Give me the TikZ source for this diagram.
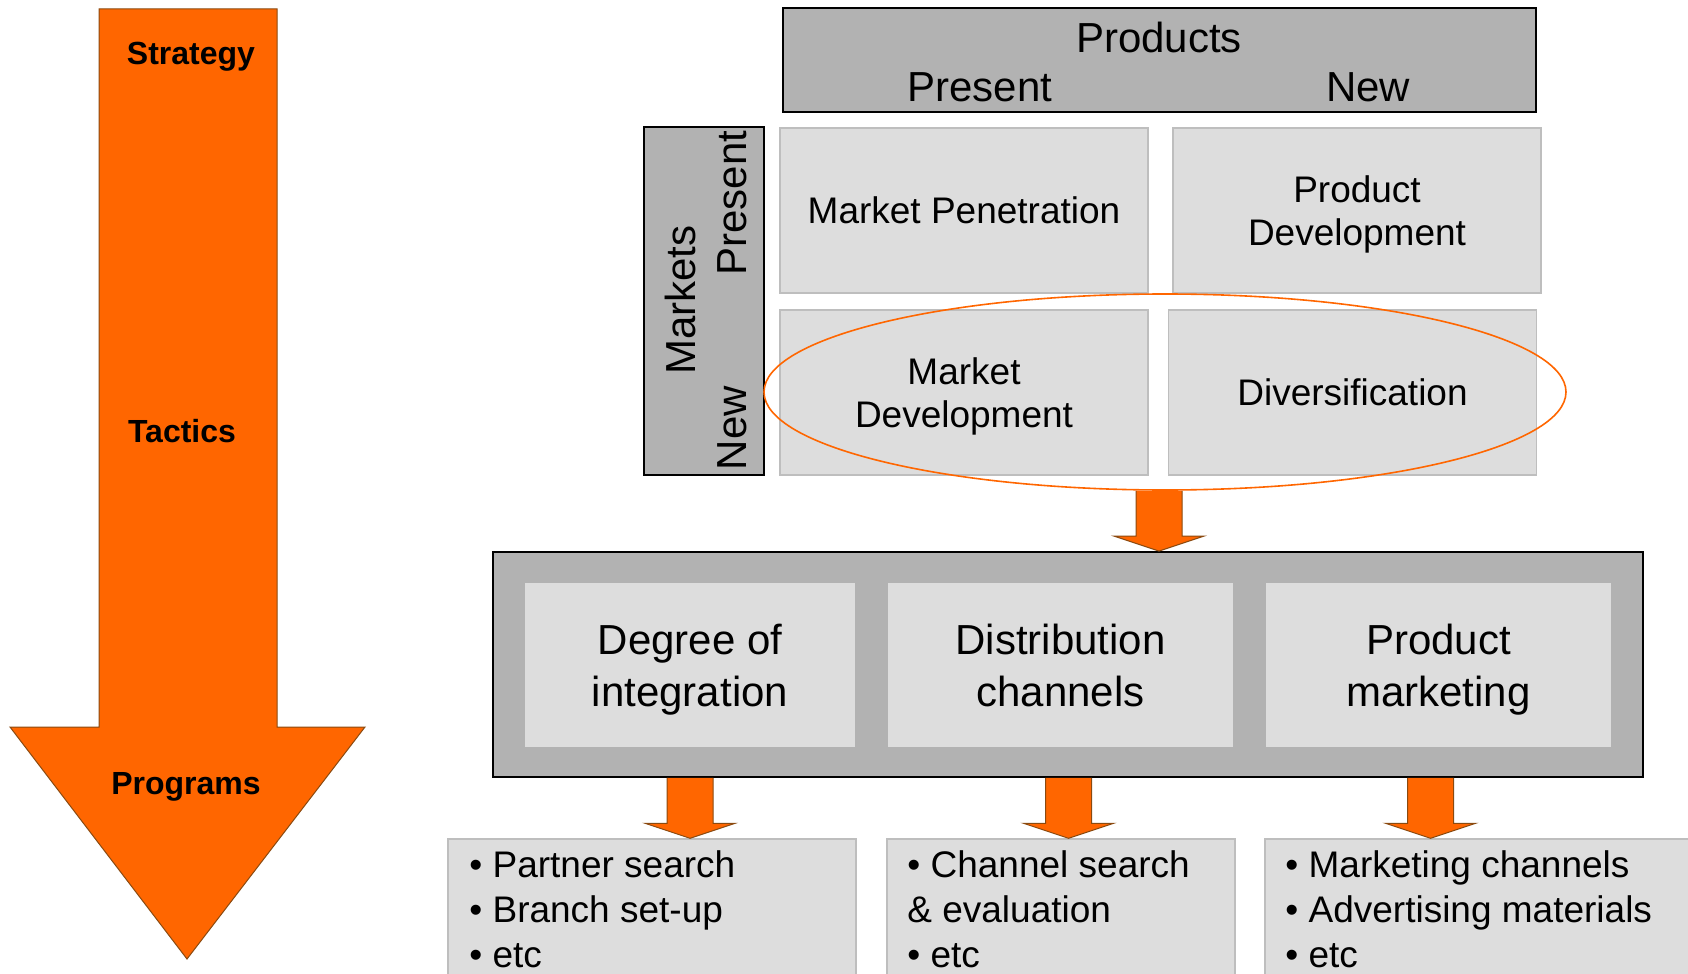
\documentclass[tikz,border=0pt]{standalone}
\usepackage{fontspec}
\setmainfont{Liberation Sans}
\usetikzlibrary{shapes.geometric, calc}

\definecolor{ansoff}{HTML}{FF6600}
\definecolor{ansoffedge}{HTML}{8A4A10}
\definecolor{darkcell}{HTML}{B2B2B2}
\definecolor{lightcell}{HTML}{DDDDDD}
\definecolor{celledge}{HTML}{BEBEBE}

% block arrow: #1 = top of shaft, #2 = node whose y is the tip
\newcommand{\fatarrow}[2]{%
  \filldraw[fatarrow] ($(#1)+(-23,0)$) -- ($(#1|-#2)+(-23,-15)$) -- ($(#1|-#2)+(-45,-15)$)
    -- (#1|-#2) -- ($(#1|-#2)+(45,-15)$) -- ($(#1|-#2)+(23,-15)$) -- ($(#1)+(23,0)$);
}

\begin{document}
\begin{tikzpicture}[
        x=0.5pt, y=-0.5pt,
        header/.style={
            rectangle,
            draw=black,
            line width=0.9pt,
            fill=darkcell,
            inner sep=0pt
        },
        cell/.style={
            rectangle,
            draw=celledge,
            line width=0.7pt,
            fill=lightcell,
            inner sep=0pt,
            minimum width=184pt,
            minimum height=82.5pt,
            align=center,
            text depth=0pt,
            font=\fontsize{18.5}{21.5}\selectfont
        },
        tactic/.style={
            rectangle,
            fill=lightcell,
            inner sep=0pt,
            minimum height=82pt,
            align=center,
            text depth=0pt,
            font=\fontsize{21}{26}\selectfont
        },
        listbox/.style={
            rectangle,
            draw=celledge,
            line width=0.7pt,
            fill=lightcell,
            inner sep=0pt,
            minimum height=75.5pt
        },
        items/.style={
            anchor=north west,
            inner sep=0pt,
            align=left,
            font=\fontsize{18.5}{22.5}\selectfont
        },
        level/.style={
            text depth=0pt,
            font=\bfseries\fontsize{16}{19}\selectfont
        },
        axis/.style={
            font=\fontsize{21}{25}\selectfont
        },
        fatarrow/.style={
            fill=ansoff,
            draw=ansoffedge,
            line width=0.5pt,
            line join=miter
        }
    ]
    \useasboundingbox (0,0) rectangle (1688,974);

    % Strategy -> Programs arrow
    \filldraw[fatarrow] (99,9) -- (277,9) -- (277,727) -- (365,727) -- (187,959)
        -- (10,727) -- (99,727) -- cycle;
    \node[level] (strat) at (191,53) {Strategy};
    \node[level] (tact) at (182,431) {Tactics};
    \node[level] (progr) at (186,783) {Programs};

    % Ansoff matrix
    \node[header, minimum width=376.5pt, minimum height=52pt] (products) at (1159.5,60) {};
    \node[axis] (prodlbl) at (1159,37) {Products};
    \node[axis] (prodpres) at (980,87) {Present};
    \node[axis] (prodnew) at (1368,87) {New};

    \node[header, minimum width=60pt, minimum height=174pt] (markets) at (704,301) {};
    \node[axis, rotate=90] (mktlbl) at (680,300) {Markets};
    \node[axis, rotate=90] (mktpres) at (732,203) {Present};
    \node[axis, rotate=90] (mktnew) at (732,428) {New};

    \node[cell] (pen) at (964,210.5) {Market Penetration};
    \node[cell] (pdev) at (1357,210.5) {Product\\Development};
    \node[cell] (mdev) at (964,392.5) {Market\\Development};
    \node[cell] (divers) at (1352.5,392.5) {Diversification};

    \node[ellipse, draw=ansoff, line width=0.8pt, inner sep=0pt,
        minimum width=401pt, minimum height=98pt] (focus) at (1165,392) {};

    % Tactics
    \node[header, minimum width=575pt, minimum height=112.5pt] (tactics) at (1068,664.5) {};
    \node[tactic, minimum width=165pt] (deg) at (690,665) {Degree of\\integration};
    \node[tactic, minimum width=172.5pt] (dist) at (1060.5,665) {Distribution\\channels};
    \node[tactic, minimum width=172.5pt] (pmk) at (1438.5,665) {Product\\marketing};

    % Programs
    \node[listbox, minimum width=204pt] (list1) at (652,914.5) {};
    \node[listbox, minimum width=174pt] (list2) at (1061,914.5) {};
    \node[listbox, minimum width=212.5pt] (list3) at (1477.5,914.5) {};
    \node[items] (items1) at (469,850) {• Partner search\\• Branch set-up\\• etc};
    \node[items] (items2) at (907,850) {• Channel search\\\& evaluation\\• etc};
    \node[items] (items3) at (1285,850) {• Marketing channels\\• Advertising materials\\• etc};

    % Arrows
    \coordinate (s0) at ($(focus.south)+(-6,0)$);
    \coordinate (s1) at (deg.south |- tactics.south);
    \coordinate (s2) at ($(dist.south |- tactics.south)+(8,0)$);
    \coordinate (s3) at ($(pmk.south |- tactics.south)+(-8,0)$);
    \fatarrow{s0}{tactics.north}
    \fatarrow{s1}{list1.north}
    \fatarrow{s2}{list2.north}
    \fatarrow{s3}{list3.north}

\end{tikzpicture}
\end{document}
